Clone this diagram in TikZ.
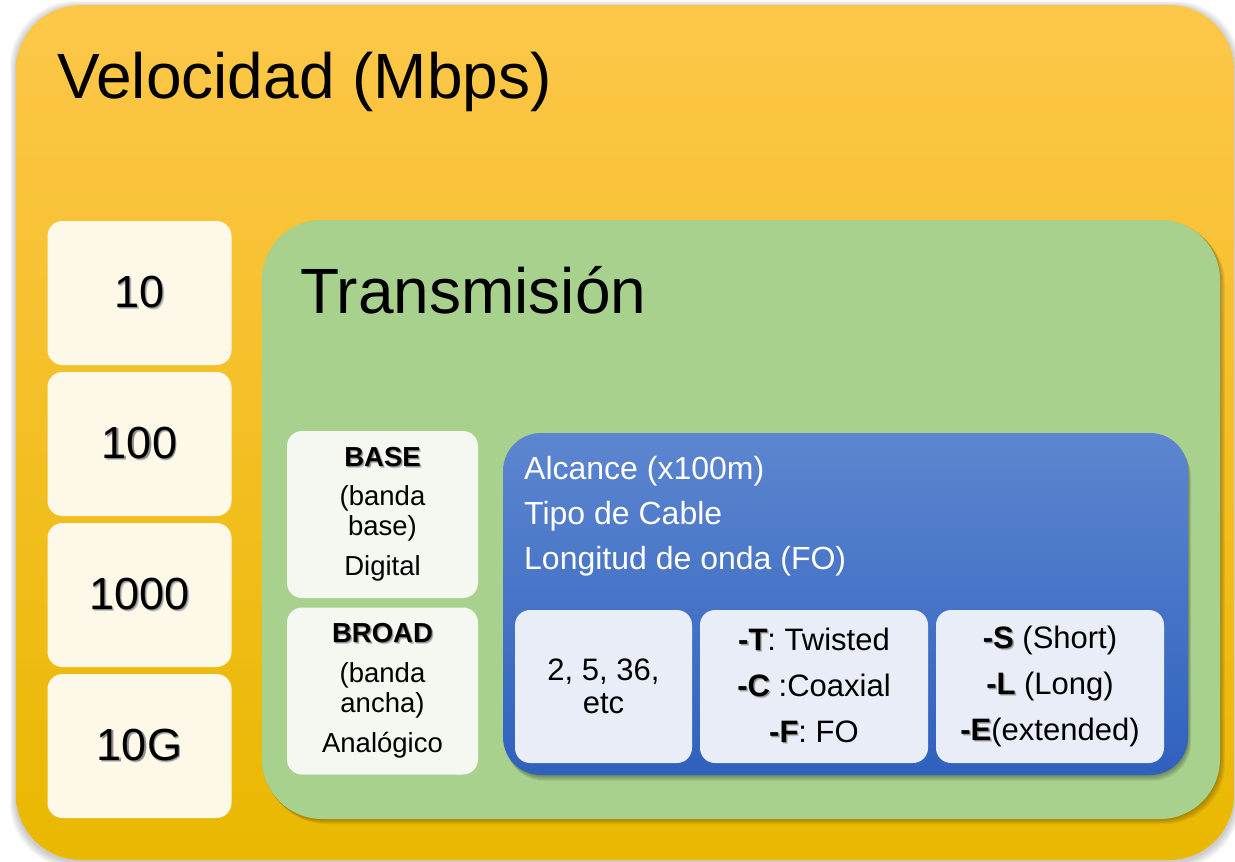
\documentclass[tikz,border=0pt]{standalone}
\usepackage{fontspec}
\setmainfont{Liberation Sans}
\usetikzlibrary{calc}

\definecolor{goldtop}{RGB}{253,199,74}
\definecolor{goldmid}{RGB}{255,199,36}
\definecolor{goldbot}{RGB}{233,184,0}
\definecolor{leaf}{RGB}{169,209,142}
\definecolor{cream}{RGB}{254,248,232}
\definecolor{pale}{RGB}{245,248,240}
\definecolor{bluetop}{RGB}{93,134,208}
\definecolor{bluebot}{RGB}{47,97,189}
\definecolor{ice}{RGB}{233,237,247}

% text with a soft drop shadow
\newcommand\tsh[1]{\leavevmode\rlap{\kern1.8pt\raisebox{-1.8pt}{\textcolor{black!22}{#1}}}\rlap{\kern1.1pt\raisebox{-1.1pt}{\textcolor{black!45}{#1}}}#1}

\begin{document}
\begin{tikzpicture}[x=1pt,y=-1pt,
  numbox/.style={fill=cream, rounded corners=15pt, minimum width=184pt, minimum height=144pt,
    inner sep=0pt, font=\fontsize{45}{50}\selectfont},
  modebox/.style={fill=pale, rounded corners=15pt, minimum width=191pt, minimum height=167pt,
    inner sep=0pt, align=center, font=\fontsize{27.5}{30}\selectfont},
  codebox/.style={fill=ice, rounded corners=15pt, minimum height=153pt,
    inner sep=0pt, align=center, font=\fontsize{31}{46}\selectfont},
  heading/.style={anchor=base west, inner sep=0pt, font=\fontsize{64}{70}\selectfont},
  bluetext/.style={anchor=base west, inner sep=0pt, text=white, font=\fontsize{32}{36}\selectfont}]

\useasboundingbox (0,0) rectangle (1235,862);

% outer panel: speed
\foreach \d in {1,...,6}
  \fill[black,opacity=.035,rounded corners=65pt] (16-\d,5-\d+2) rectangle (1234+\d,860+\d+2);
\shade[rounded corners=65pt, top color=goldtop, middle color=goldmid, bottom color=goldbot]
  (16,5) rectangle (1234,860);
\node[heading] (vel) at (57,98) {Velocidad (Mbps)};

\node[numbox] (n10)   at (139.5,293) {\tsh{10}};
\node[numbox] (n100)  at (139.5,444) {\tsh{100}};
\node[numbox] (n1000) at (139.5,595) {\tsh{1000}};
\node[numbox] (n10g)  at (139.5,746) {\tsh{10G}};

% middle panel: transmission
\foreach \d in {1,...,5}
  \fill[black,opacity=.06,rounded corners=60pt] (262+\d-1,220+\d-1) rectangle (1220+\d,819+\d);
\fill[leaf, rounded corners=60pt] (262,220) rectangle (1220,819);
\node[heading] (trans) at (300,313) {Transmisión};

\node[modebox] (base)  at (382.5,514.5) {\tsh{\textbf{BASE}}\\[9pt](banda\\base)\\[10pt]Digital};
\node[modebox] (broad) at (382.5,691)   {\tsh{\textbf{BROAD}}\\[10pt](banda\\ancha)\\[10pt]Analógico};

% inner panel: range, cable and wavelength
\foreach \d in {1,...,6}
  \fill[black,opacity=.06,rounded corners=38pt] (503+\d/2,433+\d) rectangle (1188+\d/2,775+\d);
\shade[rounded corners=38pt, top color=bluetop, bottom color=bluebot] (503,433) rectangle (1188,775);
\node[bluetext] (alc)  at (524,479) {Alcance (x100m)};
\node[bluetext] (tipo) at (524,524) {Tipo de Cable};
\node[bluetext] (lon)  at (524,569) {Longitud de onda (FO)};

\node[codebox, minimum width=177pt, font=\fontsize{31}{33}\selectfont] (dist) at (603.5,686.5) {2, 5, 36,\\etc};
\node[codebox, minimum width=228pt] (cable) at (814,686.5)
  {\tsh{\textbf{-T}}: Twisted\\\tsh{\textbf{-C}} :Coaxial\\\tsh{\textbf{-F}}: FO};
\node[codebox, minimum width=228pt] (wave) at (1050,686.5)
  {\raisebox{0pt}[0pt][0pt]{}\tsh{\textbf{-S}} (Short)\\\tsh{\textbf{-L}} (Long)\\\tsh{\textbf{-E}}(extended)};

\end{tikzpicture}
\end{document}
